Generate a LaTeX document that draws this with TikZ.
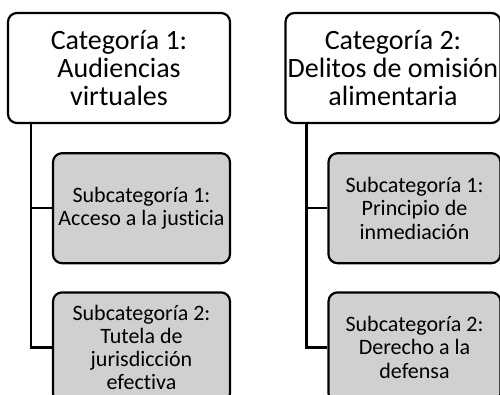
\documentclass[tikz,border=0pt]{standalone}
\usepackage{fontspec}
\setmainfont{Carlito}[Ligatures=NoCommon]
\usetikzlibrary{positioning}
\definecolor{subgray}{RGB}{208,208,208}
\begin{document}
\begin{tikzpicture}[x=1pt,y=-1pt,line width=2.2pt,
                cat/.style={draw,rounded corners=9pt,align=center,inner sep=0pt,minimum height=110pt,font=\fontsize{28}{28}\selectfont},
                sub/.style={draw,fill=subgray,rounded corners=9pt,align=center,inner sep=0pt,minimum height=110pt,font=\fontsize{22}{23.3}\selectfont}]
                \useasboundingbox (0,0) rectangle (500,395);
                \node (c1) [cat,minimum width=222pt] at (119,68) {Categoría 1:\\Audiencias\\virtuales};
                \node (c2) [cat,minimum width=215pt] at (393,68) {Categoría 2:\\Delitos de omisión\\alimentaria};
                \node (s11) [sub,minimum width=177pt,below left=28pt and 0pt of c1.south east] {Subcategoría 1:\\Acceso a la justicia};
                \node (s12) [sub,minimum width=177pt,below=27pt of s11] {Subcategoría 2:\\Tutela de\\jurisdicción\\efectiva};
                \node (s21) [sub,minimum width=172pt,below left=28pt and 0pt of c2.south east] {Subcategoría 1:\\Principio de\\inmediación};
                \node (s22) [sub,minimum width=172pt,below=27pt of s21] {Subcategoría 2:\\Derecho a la\\defensa};
                
                \draw ([xshift=24pt]c1.south west) |- (s11.west);
                \draw ([xshift=24pt]c1.south west) |- (s12.west);
                \draw ([xshift=22pt]c2.south west) |- (s21.west);
                \draw ([xshift=22pt]c2.south west) |- (s22.west);
            \end{tikzpicture}
\end{document}
